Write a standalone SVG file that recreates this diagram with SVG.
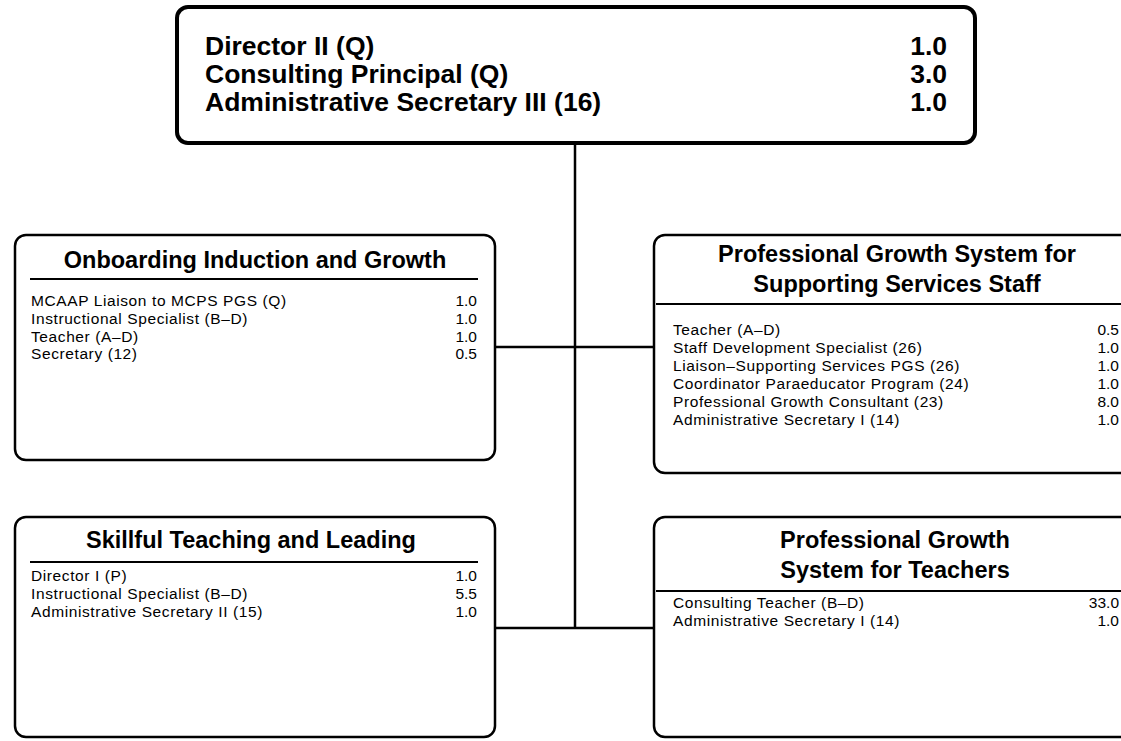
<svg xmlns="http://www.w3.org/2000/svg" width="1121" height="741" viewBox="0 0 1121 741">
<style>
.box{fill:#fff;stroke:#000;stroke-width:2.5}
.top{fill:#fff;stroke:#000;stroke-width:4}
.conn{stroke:#000;stroke-width:2.5;fill:none}
.rule{stroke:#000;stroke-width:2}
.hd{font-family:"Liberation Sans",Arial,sans-serif;font-weight:bold;font-size:26.5px;fill:#000}
.ttl{font-family:"Liberation Sans",Arial,sans-serif;font-weight:bold;font-size:23.5px;fill:#000;text-anchor:middle}
.it{font-family:"Liberation Sans",Arial,sans-serif;font-size:15.5px;letter-spacing:0.6px;fill:#000}
.num{text-anchor:end;letter-spacing:0}
</style>
<rect width="1121" height="741" fill="#fff"/>
<g id="connectors">
<line class="conn" x1="575" y1="143" x2="575" y2="628"/>
<line class="conn" x1="495" y1="347" x2="654" y2="347"/>
<line class="conn" x1="495" y1="628" x2="654" y2="628"/>
</g>
<g id="top">
<rect class="top" x="177" y="7" width="798" height="136" rx="11"/>
<text class="hd" x="205" y="55">Director II (Q)</text>
<text class="hd" x="205" y="83">Consulting Principal (Q)</text>
<text class="hd" x="205" y="111">Administrative Secretary III (16)</text>
<text class="hd num" x="947" y="55">1.0</text>
<text class="hd num" x="947" y="83">3.0</text>
<text class="hd num" x="947" y="111">1.0</text>
</g>
<g id="onboarding">
<rect class="box" x="15" y="235" width="480" height="225" rx="11"/>
<text class="ttl" x="255" y="268">Onboarding Induction and Growth</text>
<line class="rule" x1="30" y1="279" x2="478" y2="279"/>
<text class="it" x="31" y="306">MCAAP Liaison to MCPS PGS (Q)</text>
<text class="it" x="31" y="324">Instructional Specialist (B–D)</text>
<text class="it" x="31" y="341.5">Teacher (A–D)</text>
<text class="it" x="31" y="359">Secretary (12)</text>
<text class="it num" x="477" y="306">1.0</text>
<text class="it num" x="477" y="324">1.0</text>
<text class="it num" x="477" y="341.5">1.0</text>
<text class="it num" x="477" y="359">0.5</text>
</g>
<g id="pgs-support">
<rect class="box" x="654" y="235" width="500" height="238" rx="11"/>
<text class="ttl" x="897" y="262">Professional Growth System for</text>
<text class="ttl" x="897" y="292">Supporting Services Staff</text>
<line class="rule" x1="656" y1="304" x2="1121" y2="304"/>
<text class="it" x="673" y="335">Teacher (A–D)</text>
<text class="it" x="673" y="353">Staff Development Specialist (26)</text>
<text class="it" x="673" y="371">Liaison–Supporting Services PGS (26)</text>
<text class="it" x="673" y="389">Coordinator Paraeducator Program (24)</text>
<text class="it" x="673" y="407">Professional Growth Consultant (23)</text>
<text class="it" x="673" y="425">Administrative Secretary I (14)</text>
<text class="it num" x="1119" y="335">0.5</text>
<text class="it num" x="1119" y="353">1.0</text>
<text class="it num" x="1119" y="371">1.0</text>
<text class="it num" x="1119" y="389">1.0</text>
<text class="it num" x="1119" y="407">8.0</text>
<text class="it num" x="1119" y="425">1.0</text>
</g>
<g id="skillful">
<rect class="box" x="15" y="517" width="480" height="220" rx="11"/>
<text class="ttl" x="251" y="548">Skillful Teaching and Leading</text>
<line class="rule" x1="30" y1="562" x2="478" y2="562"/>
<text class="it" x="31" y="581">Director I (P)</text>
<text class="it" x="31" y="599">Instructional Specialist (B–D)</text>
<text class="it" x="31" y="617">Administrative Secretary II (15)</text>
<text class="it num" x="477" y="581">1.0</text>
<text class="it num" x="477" y="599">5.5</text>
<text class="it num" x="477" y="617">1.0</text>
</g>
<g id="pgs-teachers">
<rect class="box" x="654" y="517" width="500" height="220" rx="11"/>
<text class="ttl" x="895" y="548">Professional Growth</text>
<text class="ttl" x="895" y="578">System for Teachers</text>
<line class="rule" x1="656" y1="591" x2="1121" y2="591"/>
<text class="it" x="673" y="608">Consulting Teacher (B–D)</text>
<text class="it" x="673" y="626">Administrative Secretary I (14)</text>
<text class="it num" x="1119" y="608">33.0</text>
<text class="it num" x="1119" y="626">1.0</text>
</g>
</svg>
